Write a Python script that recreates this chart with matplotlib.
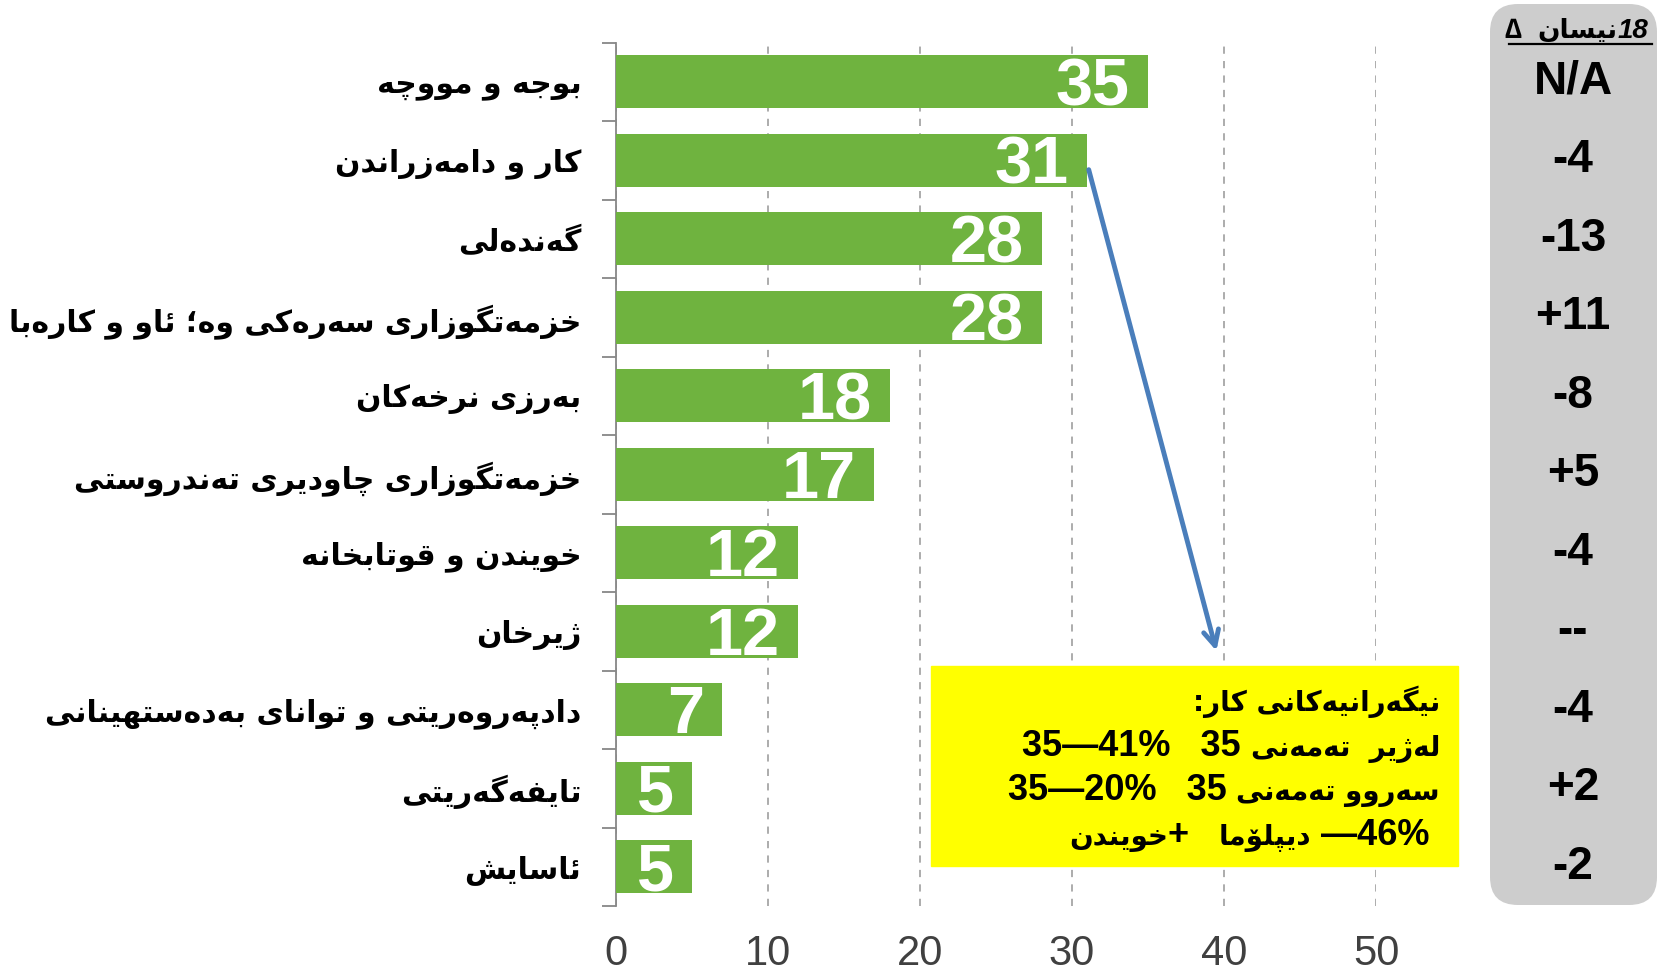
import numpy as np
import matplotlib
matplotlib.use('Agg')
import matplotlib.pyplot as plt
from matplotlib import font_manager, ft2font, transforms
from matplotlib.patches import Rectangle, FancyBboxPatch

# data
categories = ['بوجە و مووچە', 'کار و دامەزراندن', 'گەندەڵی',
              'خزمەتگوزاری سەرەکی وە؛ ئاو و کارەبا', 'بەرزی نرخەکان',
              'خزمەتگوزاری چاودێری تەندروستی', 'خوێندن و قوتابخانە', 'ژێرخان',
              'دادپەروەرێتی و توانای بەدەستهێنانی', 'تایفەگەرێتی', 'ئاسایش']
values = [35, 31, 28, 28, 18, 17, 12, 12, 7, 5, 5]
changes = ['N/A', '-4', '-13', '+11', '-8', '+5', '-4', '--', '-4', '+2', '-2']
x_ticks = [0, 10, 20, 30, 40, 50]

# arabic script: matplotlib does no shaping, so pick presentation forms by hand
FORMS = {
    'ا': (0xFE8D, 0xFE8E), 'د': (0xFEA9, 0xFEAA), 'ر': (0xFEAD, 0xFEAE),
    'ز': (0xFEAF, 0xFEB0), 'و': (0xFEED, 0xFEEE), 'ژ': (0xFB8A, 0xFB8B),
    'ۆ': (0xFBD9, 0xFBDA),
    'ب': (0xFE8F, 0xFE90, 0xFE91, 0xFE92), 'ت': (0xFE95, 0xFE96, 0xFE97, 0xFE98),
    'ج': (0xFE9D, 0xFE9E, 0xFE9F, 0xFEA0), 'خ': (0xFEA5, 0xFEA6, 0xFEA7, 0xFEA8),
    'س': (0xFEB1, 0xFEB2, 0xFEB3, 0xFEB4), 'ش': (0xFEB5, 0xFEB6, 0xFEB7, 0xFEB8),
    'ف': (0xFED1, 0xFED2, 0xFED3, 0xFED4), 'ق': (0xFED5, 0xFED6, 0xFED7, 0xFED8),
    'ل': (0xFEDD, 0xFEDE, 0xFEDF, 0xFEE0), 'م': (0xFEE1, 0xFEE2, 0xFEE3, 0xFEE4),
    'ن': (0xFEE5, 0xFEE6, 0xFEE7, 0xFEE8), 'ه': (0xFEE9, 0xFEEA, 0xFEEB, 0xFEEC),
    'ئ': (0xFE89, 0xFE8A, 0xFE8B, 0xFE8C), 'پ': (0xFB56, 0xFB57, 0xFB58, 0xFB59),
    'چ': (0xFB7A, 0xFB7B, 0xFB7C, 0xFB7D), 'ک': (0xFB8E, 0xFB8F, 0xFB90, 0xFB91),
    'گ': (0xFB92, 0xFB93, 0xFB94, 0xFB95), 'ی': (0xFBFC, 0xFBFD, 0xFBFE, 0xFBFF),
    'ي': (0xFEF1, 0xFEF2, 0xFEF3, 0xFEF4), 'ك': (0xFED9, 0xFEDA, 0xFEDB, 0xFEDC),
}
ALIAS = {'ە': 'ه', 'ێ': 'ی', 'ڵ': 'ل', 'ڕ': 'ر'}
FALLBACK = {'ی': 'ي', 'ک': 'ك', 'گ': 'ك', 'پ': 'ب', 'چ': 'ج', 'ژ': 'ز', 'ۆ': 'و'}
DUAL = set('بتجخسشفقلمنهئپچکگیێڵيك')
RIGHT = set('ادرزژوۆەڕ')

bold_path = font_manager.findfont(font_manager.FontProperties(family='DejaVu Sans', weight='bold'))
CMAP = ft2font.FT2Font(bold_path).get_charmap()


def glyph(b, k):
    for name in (b, FALLBACK.get(b)):
        if name in FORMS:
            cp = FORMS[name][k]
            if cp in CMAP:
                return chr(cp)
    return b


def rtl(s):
    out = []
    for i, c in enumerate(s):
        b = ALIAS.get(c, c)
        if b not in FORMS:
            out.append(c)
            continue
        jp = i > 0 and s[i - 1] in DUAL
        jn = c in DUAL and i + 1 < len(s) and (s[i + 1] in DUAL or s[i + 1] in RIGHT)
        k = (3 if jp else 2) if jn else (1 if jp else 0)
        out.append(glyph(b, k))
    return ''.join(out[::-1])


NUM = dict(fontsize=26, fontweight='bold', family=['Liberation Sans', 'DejaVu Sans'])
AR = dict(fontsize=20, fontweight='bold', family=['DejaVu Sans'])
HI = dict(fontsize=20, fontweight='bold', style='italic', family=['Liberation Sans', 'DejaVu Sans'])
HA = dict(fontsize=19, fontweight='bold', family=['DejaVu Sans'])

# pieces listed left to right as they appear
note_lines = [[(rtl('نیگەرانیەکانی کار:'), AR)],
              [('35—41%   35 ', NUM), (rtl('لەژێر  تەمەنی'), AR)],
              [('35—20%   35 ', NUM), (rtl('سەروو تەمەنی'), AR)],
              [(rtl('خویندن'), AR), ('+   ', NUM), (rtl('دیپلۆما'), AR), (' —46%', NUM)]]
header = [('∆  ', HI), (rtl('نیسان'), HA), ('18', HI)]

fig = plt.figure(figsize=(16.66, 9.73), dpi=100)
ax = fig.add_axes([616 / 1666, 1 - 906 / 973, 760 / 1666, 863.5 / 973])

y = np.arange(len(categories))
ax.barh(y, values, height=0.68, color='#6FB33F', zorder=3)
for yi, v in zip(y, values):
    ax.annotate(str(v), (v, yi), xytext=(-13, -17), textcoords='offset points',
                ha='right', va='baseline', color='white', fontsize=48,
                fontweight='bold', family=['Liberation Sans', 'DejaVu Sans'], zorder=4)

ax.set_xlim(0, 50)
ax.set_ylim(len(categories) - 0.5, -0.5)
ax.set_xticks(x_ticks)
ax.set_xticklabels([str(t) for t in x_ticks], family=['Liberation Sans Narrow', 'Liberation Sans'],
                   fontsize=30, color='#404040')
ax.set_yticks(y)
ax.set_yticklabels([rtl(c) for c in categories], family=['DejaVu Sans'],
                   fontweight='bold', fontsize=21.5)
ax.set_yticks(np.arange(len(categories) + 1) - 0.5, minor=True)
ax.tick_params(axis='x', length=0, pad=20)
ax.tick_params(axis='y', which='major', length=0, pad=25)
ax.tick_params(axis='y', which='minor', length=10, width=1.3, color='#878787')
ax.xaxis.grid(True, ls=(0, (4, 4)), color='#A6A6A6', lw=1.3)
ax.set_axisbelow(True)
for s in ['top', 'right', 'bottom']:
    ax.spines[s].set_visible(False)
ax.spines['left'].set_color('#878787')
ax.spines['left'].set_linewidth(1.3)

ax.annotate('', xy=(39.5, 7.25), xytext=(31.1, 1.12),
            arrowprops=dict(arrowstyle='->,head_length=1.1,head_width=0.55',
                            color='#4A7EBB', lw=3.5, shrinkA=0, shrinkB=0), zorder=6)

# overlay in pixel coords for the note box and the change panel
ov = fig.add_axes([0, 0, 1, 1], zorder=5)
ov.set_xlim(0, 1666)
ov.set_ylim(973, 0)
ov.axis('off')


def chain(pieces, x, y0):
    # right-aligned run of pieces, each placed left of the one before
    prev = None
    for text, kw in reversed(pieces):
        if prev is None:
            prev = ov.text(x, y0, text, ha='right', va='baseline', **kw)
        else:
            prev = ov.annotate(text, xy=(0, y0), xycoords=(prev, 'data'),
                               ha='right', va='baseline', **kw)
    return prev


ov.add_patch(Rectangle((931, 666), 527, 200, color='#FFFF00'))
for i, pieces in enumerate(note_lines):
    chain(pieces, 1440 if i < 3 else 1430, 711 + i * 44.7)

ov.add_patch(FancyBboxPatch((1490, 4), 167, 901, boxstyle='round,pad=0,rounding_size=28',
                            fc='#CDCDCD', ec='none'))
chain(header, 1648, 38)
ov.plot([1509, 1652], [44, 44], color='black', lw=1.6)

tr = transforms.blended_transform_factory(ov.transData, ax.transData)
for yi, c in zip(y, changes):
    ov.text(1573, yi, c, transform=tr, ha='center', va='center', fontsize=33,
            fontweight='bold', family=['Liberation Sans', 'DejaVu Sans'])

fig.savefig('out.png', dpi=100)
